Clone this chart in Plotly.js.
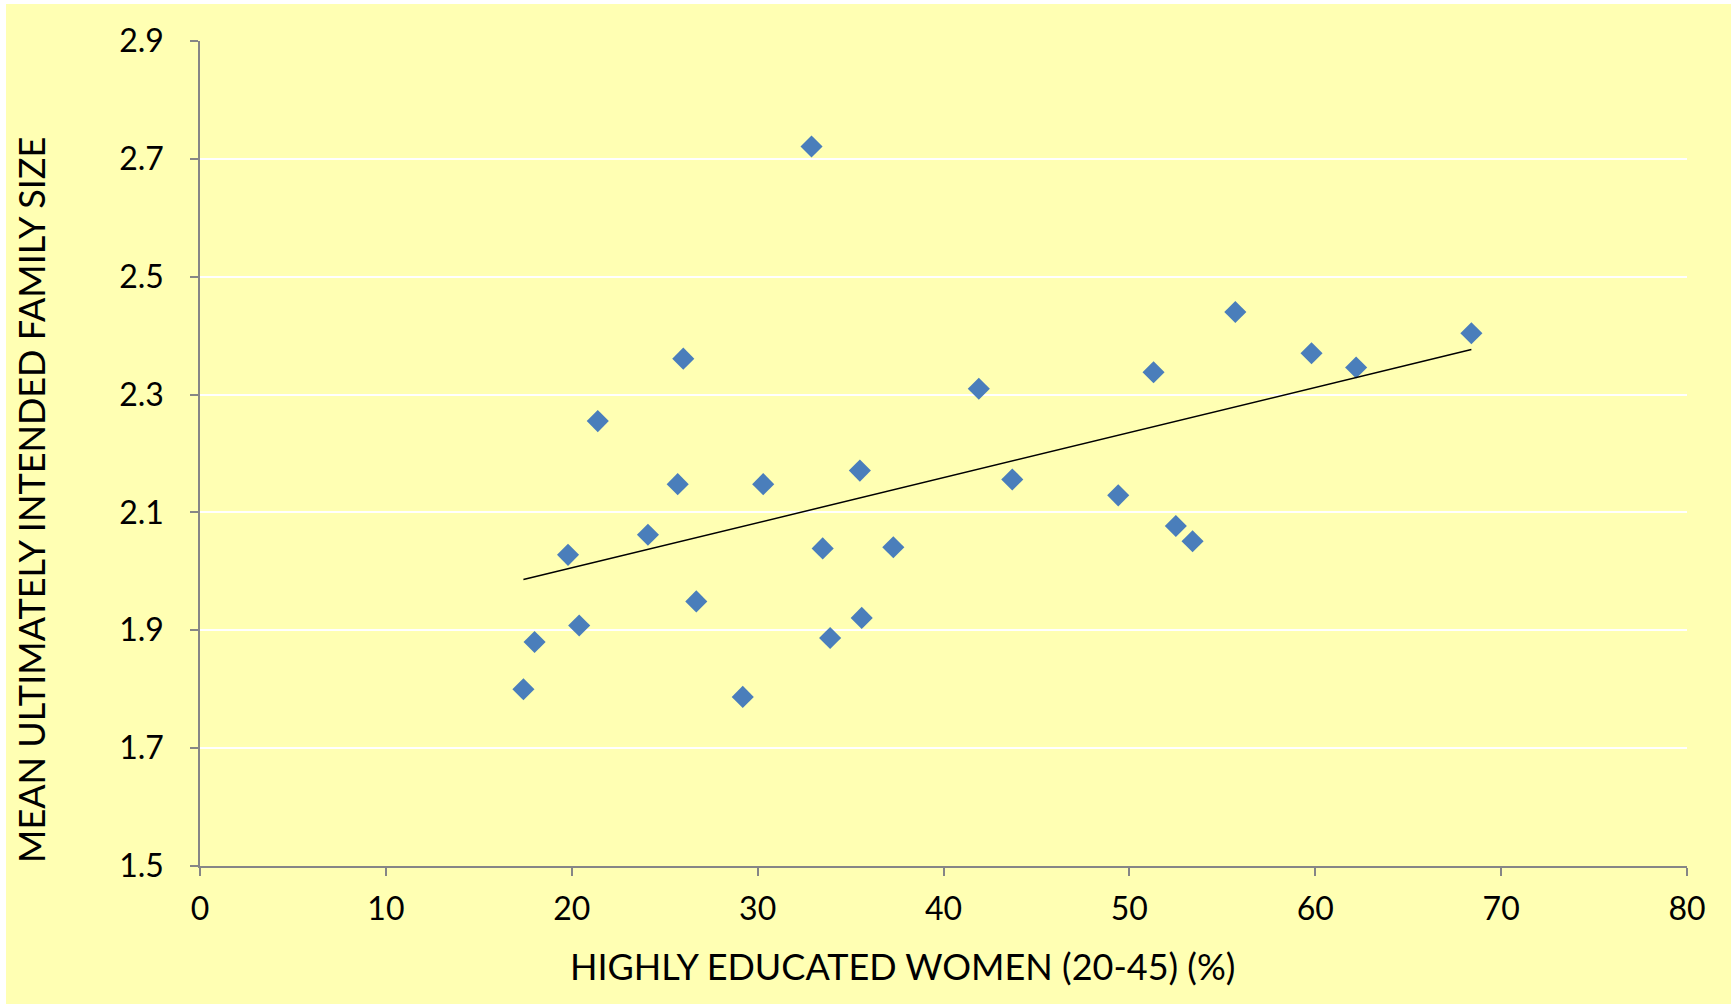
<!DOCTYPE html>
<html>
<head>
<meta charset="utf-8">
<script src="https://cdn.plot.ly/plotly-3.0.1.min.js"></script>
<style>
  html, body { margin: 0; padding: 0; background: #ffffff; }
  #chart { position: absolute; left: 6px; top: 4px; width: 1725px; height: 1000px; }
</style>
</head>
<body>
<div id="chart"></div>
<script>
// Share of highly educated women aged 20-45 (%)
const educatedWomenPct = [17.4, 18.0, 19.8, 20.4, 21.4, 24.1, 25.7, 26.0, 26.7, 29.2,
                          30.3, 32.9, 33.5, 33.9, 35.5, 35.6, 37.3, 41.9, 43.7, 49.4,
                          51.3, 52.5, 53.4, 55.7, 59.8, 62.2, 68.4];
// Mean ultimately intended family size
const intendedFamilySize = [1.80, 1.88, 2.028, 1.908, 2.255, 2.062, 2.148, 2.361, 1.949, 1.787,
                            2.148, 2.721, 2.039, 1.887, 2.171, 1.921, 2.041, 2.310, 2.156, 2.129,
                            2.338, 2.077, 2.051, 2.440, 2.370, 2.346, 2.404];

const xTickVals = [0, 10, 20, 30, 40, 50, 60, 70, 80];
const yTickVals = [1.5, 1.7, 1.9, 2.1, 2.3, 2.5, 2.7, 2.9];
const xTitle = 'HIGHLY EDUCATED WOMEN (20-45) (%)';
const yTitle = 'MEAN ULTIMATELY INTENDED FAMILY SIZE';

// least-squares linear trendline
const n = educatedWomenPct.length;
const mx = educatedWomenPct.reduce((a, b) => a + b, 0) / n;
const my = intendedFamilySize.reduce((a, b) => a + b, 0) / n;
let sxy = 0, sxx = 0;
for (let i = 0; i < n; i++) {
  sxy += (educatedWomenPct[i] - mx) * (intendedFamilySize[i] - my);
  sxx += (educatedWomenPct[i] - mx) ** 2;
}
const slope = sxy / sxx;
const intercept = my - slope * mx;
const xMin = Math.min(...educatedWomenPct), xMax = Math.max(...educatedWomenPct);
const trendX = [xMin, xMax];
const trendY = trendX.map(x => intercept + slope * x);

const font = 'Lato, "Open Sans", sans-serif';

const data = [
  {
    x: educatedWomenPct, y: intendedFamilySize,
    type: 'scatter', mode: 'markers',
    marker: { symbol: 'diamond', size: 17, color: '#4A7EBB', line: { width: 0 } },
    hoverinfo: 'x+y', showlegend: false
  },
  {
    x: trendX, y: trendY,
    type: 'scatter', mode: 'lines',
    line: { color: '#000000', width: 1.5 },
    hoverinfo: 'skip', showlegend: false
  }
];

const layout = {
  width: 1725, height: 1000,
  paper_bgcolor: '#FFFFB3',
  plot_bgcolor: '#FFFFB3',
  margin: { l: 194, r: 44, t: 37, b: 138 },
  font: { family: font, color: '#000000', size: 32 },
  showlegend: false,
  xaxis: {
    range: [0, 80], tickvals: xTickVals,
    showgrid: false, zeroline: false,
    showline: true, linecolor: '#868686', linewidth: 1.5,
    ticks: 'outside', ticklen: 8, tickcolor: '#868686', tickwidth: 1.5,
    ticklabelstandoff: 6,
    tickfont: { family: font, size: 32, color: '#000000' }
  },
  yaxis: {
    range: [1.5, 2.9], tickvals: yTickVals, tickformat: '.1f',
    showgrid: true, gridcolor: '#ffffff', gridwidth: 2,
    zeroline: false,
    showline: true, linecolor: '#868686', linewidth: 1.5,
    ticks: 'outside', ticklen: 8, tickcolor: '#868686', tickwidth: 1.5,
    ticklabelstandoff: 20,
    tickfont: { family: font, size: 32, color: '#000000' }
  },
  annotations: [
    {
      text: xTitle, xref: 'paper', yref: 'paper',
      x: (896 - 194) / 1487, y: -(966 - 4 - 862) / 825,
      xanchor: 'center', yanchor: 'middle', showarrow: false,
      font: { family: font, size: 36, color: '#000000' }
    },
    {
      text: yTitle, xref: 'paper', yref: 'paper', textangle: -90,
      x: -(194 - 25) / 1487, y: (862 - (500 - 4)) / 825,
      xanchor: 'center', yanchor: 'middle', showarrow: false,
      font: { family: font, size: 36, color: '#000000' }
    }
  ]
};

Plotly.newPlot('chart', data, layout, { displayModeBar: false, staticPlot: false });
</script>
</body>
</html>
